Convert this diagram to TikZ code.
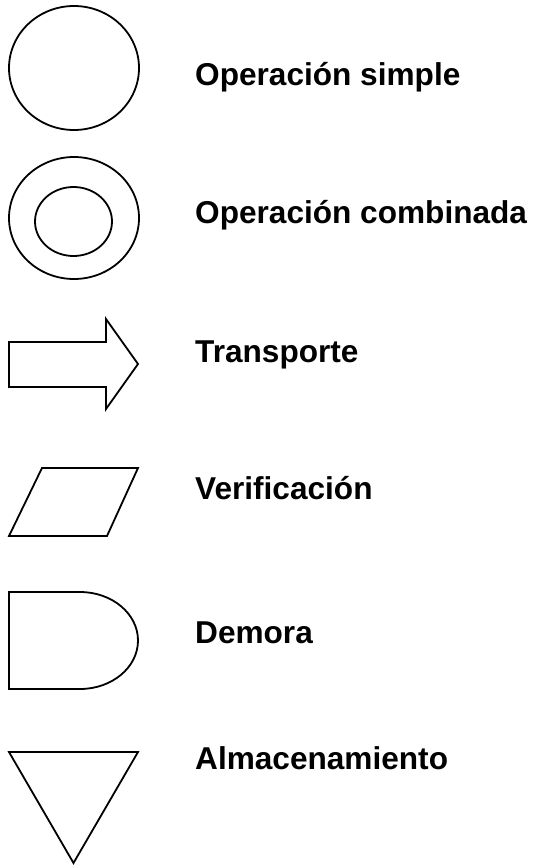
\documentclass[tikz,border=0pt]{standalone}
\usepackage{fontspec}
\setmainfont{Liberation Sans}
\usetikzlibrary{positioning}

\begin{document}
\begin{tikzpicture}[
        x=1pt,y=-1pt,
        symb/.style={
          draw,
          line width=1.8pt,
          line join=miter
        },
        etiq/.style={
          anchor=base west,
          inner sep=0pt,
          font=\fontsize{31.6}{38}\selectfont\bfseries
        }
        ]
        \useasboundingbox (0,0) rectangle (535,865);

        % simbolos
        \draw[symb] (74,68) ellipse [x radius=65pt, y radius=62pt];

        \draw[symb] (74,218) ellipse [x radius=65pt, y radius=61pt];
        \draw[symb] (73.5,221.5) ellipse [x radius=38.5pt, y radius=34.5pt];

        \draw[symb] (9,342) -- (106,342) -- (106,319) -- (138,364)
          -- (106,409) -- (106,387) -- (9,387) -- cycle;

        \draw[symb] (42,468) -- (138,468) -- (107,536) -- (9,536) -- cycle;

        \draw[symb] (9,592) -- (80,592)
          arc [start angle=90, end angle=-90, x radius=58pt, y radius=48.5pt]
          -- (9,689) -- cycle;

        \draw[symb] (9,752) -- (138,752) -- (73.5,863) -- cycle;

        % etiquetas
        \node[etiq] (simple) at (195,85.5) {Operación simple};
        \node[etiq] (combinada) at (195,223) {Operación combinada};
        \node[etiq] (transporte) at (195,362) {Transporte};
        \node[etiq] (verificacion) at (195,499) {Verificación};
        \node[etiq] (demora) at (195,643) {Demora};
        \node[etiq] (almacen) at (195,769) {Almacenamiento};
    \end{tikzpicture}
\end{document}
